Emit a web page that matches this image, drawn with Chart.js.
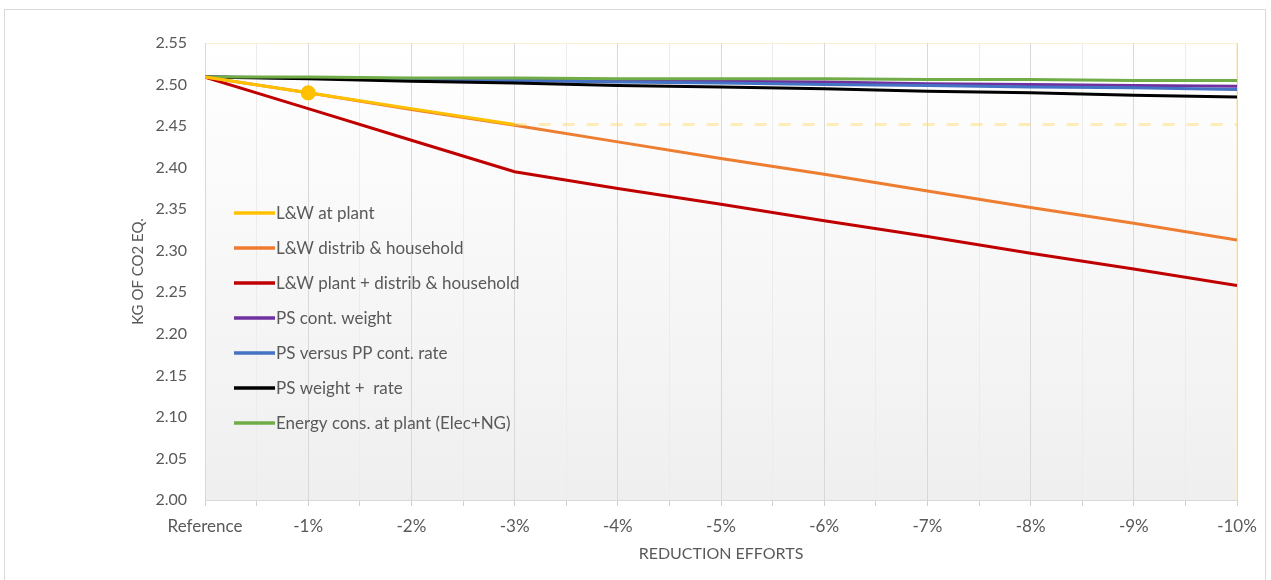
<!DOCTYPE html>
<html>
<head>
<meta charset="utf-8">
<script src="https://cdn.jsdelivr.net/npm/chart.js@4"></script>
<style>
  html, body { margin: 0; padding: 0; background: #fff; }
  #wrap { position: relative; width: 1271px; height: 580px; }
  #frame { position: absolute; left: 4px; top: 9px; width: 1262px; height: 580px; border: 1px solid #d9d9d9; box-sizing: border-box; }
</style>
</head>
<body>
<div id="wrap">
  <div id="frame"></div>
  <canvas id="myChart" width="1271" height="580"></canvas>
</div>
<script>
(() => {
    'use strict'

    const categories = ['Reference', '-1%', '-2%', '-3%', '-4%', '-5%', '-6%', '-7%', '-8%', '-9%', '-10%'];

    // kg CO2 eq. per scenario
    const lwPlant = [2.509, 2.490, 2.471, 2.452, 2.452, 2.452, 2.452, 2.452, 2.452, 2.452, 2.452];
    const lwDistrib = [2.509, 2.490, 2.470, 2.451, 2.431, 2.411, 2.392, 2.372, 2.352, 2.333, 2.313];
    const lwBoth = [2.509, 2.471, 2.433, 2.395, 2.375, 2.356, 2.336, 2.317, 2.297, 2.278, 2.258];
    const psWeight = [2.509, 2.508, 2.507, 2.506, 2.505, 2.504, 2.503, 2.501, 2.500, 2.499, 2.498];
    const psRate = [2.509, 2.508, 2.506, 2.505, 2.503, 2.502, 2.500, 2.499, 2.497, 2.496, 2.494];
    const psBoth = [2.509, 2.507, 2.504, 2.502, 2.499, 2.497, 2.495, 2.492, 2.490, 2.487, 2.485];
    const energy = [2.509, 2.509, 2.508, 2.508, 2.507, 2.507, 2.507, 2.506, 2.506, 2.505, 2.505];

    const yTicks = [2.00, 2.05, 2.10, 2.15, 2.20, 2.25, 2.30, 2.35, 2.40, 2.45, 2.50, 2.55];

    const series = [
        { label: 'L&W at plant', data: lwPlant, color: '#ffc000' },
        { label: 'L&W distrib & household', data: lwDistrib, color: '#ed7d31' },
        { label: 'L&W plant + distrib & household', data: lwBoth, color: '#c00000' },
        { label: 'PS cont. weight', data: psWeight, color: '#7030a0' },
        { label: 'PS versus PP cont. rate', data: psRate, color: '#4472c4' },
        { label: 'PS weight +  rate', data: psBoth, color: '#000000' },
        { label: 'Energy cons. at plant (Elec+NG)', data: energy, color: '#70ad47' }
    ];

    const font = 'Lato';
    const textColor = '#595959';

    // lower order is painted on top
    const drawOrder = [0, 1, 2, 6, 5, 4, 3];

    const datasets = series.map((s, i) => ({
        label: s.label,
        data: s.data.map((v, k) => ({ x: k, y: v })),
        borderColor: s.color,
        backgroundColor: s.color,
        borderWidth: 3,
        pointRadius: i === 0 ? s.data.map((v, k) => (k === 1 ? 6 : 0)) : 0,
        pointHoverRadius: 0,
        tension: 0,
        order: drawOrder[i],
        segment: i === 0 ? {
            borderColor: c => (c.p0DataIndex >= 3 ? 'rgba(255, 217, 102, 0.45)' : undefined),
            borderDash: c => (c.p0DataIndex >= 3 ? [12, 12] : undefined)
        } : undefined
    }));

    const plotBg = {
        id: 'plotBg',
        beforeDraw(chart) {
            const { ctx, chartArea: a } = chart;
            const g = ctx.createLinearGradient(0, a.top, 0, a.bottom);
            g.addColorStop(0, '#ffffff');
            g.addColorStop(1, '#efefef');
            ctx.save();
            ctx.fillStyle = g;
            ctx.fillRect(a.left, a.top, a.right - a.left, a.bottom - a.top);
            ctx.strokeStyle = '#fdf0d0';
            ctx.lineWidth = 1;
            ctx.strokeRect(a.left + 0.5, a.top + 0.5, a.right - a.left - 1, a.bottom - a.top);
            ctx.restore();
        }
    };

    const insideLegend = {
        id: 'insideLegend',
        afterDraw(chart) {
            const { ctx, chartArea: a } = chart;
            ctx.save();
            ctx.font = '17px ' + font;
            ctx.textBaseline = 'middle';
            series.forEach((s, i) => {
                const y = a.top + 170 + i * 35;
                ctx.strokeStyle = s.color;
                ctx.lineWidth = 3.5;
                ctx.beginPath();
                ctx.moveTo(a.left + 29, y);
                ctx.lineTo(a.left + 70, y);
                ctx.stroke();
                ctx.fillStyle = textColor;
                ctx.fillText(s.label, a.left + 71, y + 1);
            });
            ctx.restore();
        }
    };

    const ctx = document.getElementById('myChart');

    new Chart(ctx, {
        type: 'line',
        data: { datasets: datasets },
        plugins: [plotBg, insideLegend],
        options: {
            responsive: false,
            animation: false,
            layout: { padding: { left: 129, right: 34, top: 43, bottom: 17 } },
            plugins: {
                legend: { display: false },
                tooltip: { enabled: false }
            },
            scales: {
                x: {
                    type: 'linear',
                    min: 0,
                    max: categories.length - 1,
                    afterBuildTicks: scale => {
                        const t = [];
                        for (let k = 0; k <= (categories.length - 1) * 2; k++) t.push({ value: k / 2 });
                        scale.ticks = t;
                    },
                    afterFit: scale => { scale.height = 63; },
                    grid: {
                        color: c => (Number.isInteger(c.tick.value) ? '#d9d9d9' : '#ececec'),
                        tickColor: '#cfcfcf',
                        tickLength: 6,
                        lineWidth: 1
                    },
                    border: { color: '#d9d9d9' },
                    ticks: {
                        autoSkip: false,
                        maxRotation: 0,
                        padding: 10,
                        color: textColor,
                        font: { family: font, size: 17 },
                        callback: v => (Number.isInteger(v) ? categories[v] : '')
                    },
                    title: {
                        display: true,
                        text: 'REDUCTION EFFORTS',
                        color: textColor,
                        font: { family: font, size: 16 },
                        padding: { top: 0, bottom: 0 }
                    }
                },
                y: {
                    min: yTicks[0],
                    max: yTicks[yTicks.length - 1],
                    afterBuildTicks: scale => { scale.ticks = yTicks.map(v => ({ value: v })); },
                    afterFit: scale => { scale.width = 76; },
                    grid: { display: false },
                    border: { display: false },
                    ticks: {
                        padding: 10,
                        color: textColor,
                        font: { family: font, size: 16 },
                        callback: v => v.toFixed(2)
                    },
                    title: {
                        display: true,
                        text: 'KG OF CO2 EQ.',
                        color: textColor,
                        font: { family: font, size: 15 },
                        padding: { top: 0, bottom: 0 }
                    }
                }
            }
        }
    });
})()
</script>
</body>
</html>
